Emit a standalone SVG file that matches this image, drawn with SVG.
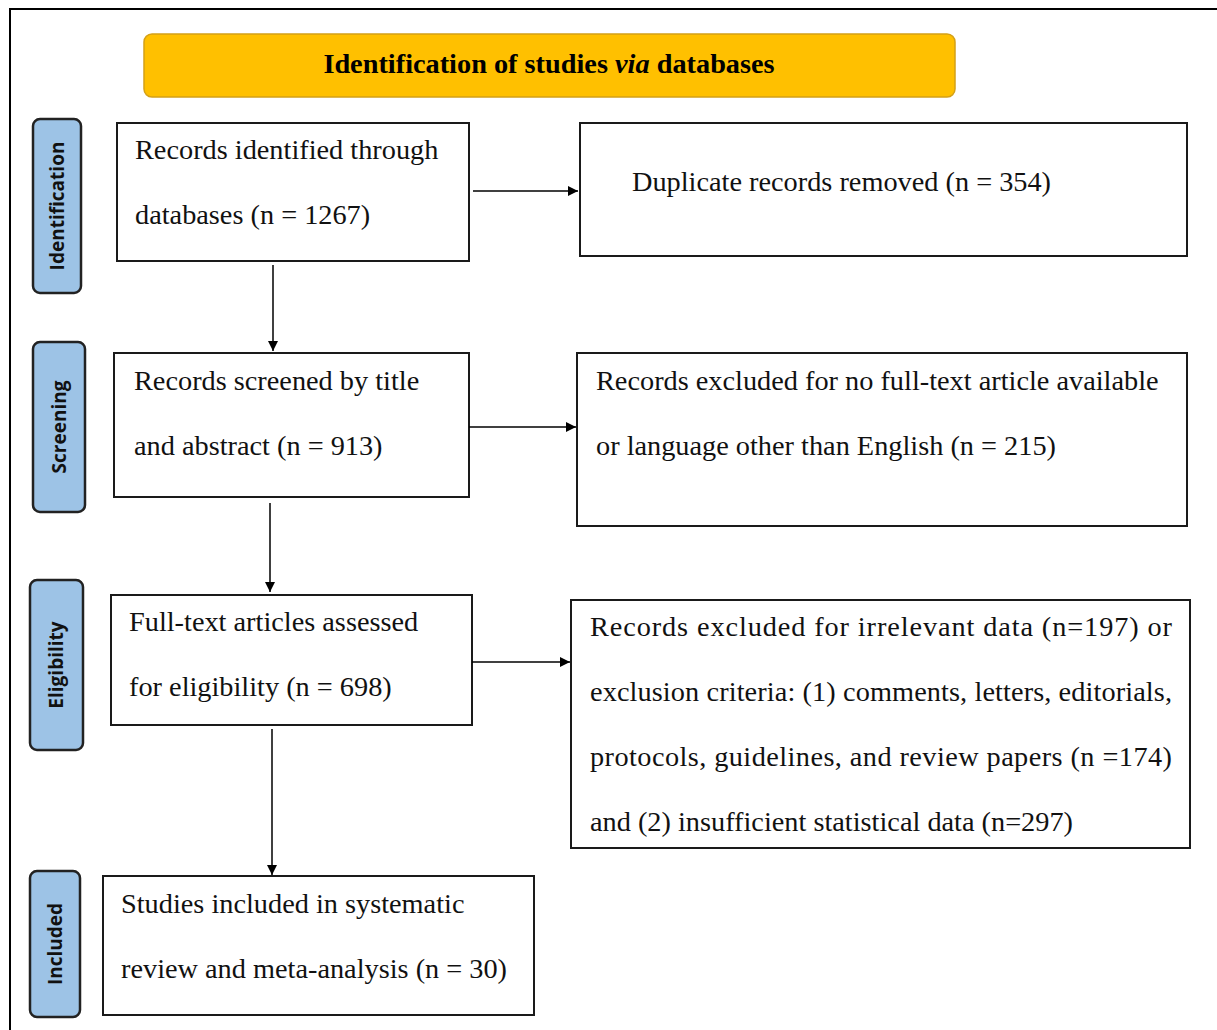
<svg xmlns="http://www.w3.org/2000/svg" width="1217" height="1030" viewBox="0 0 1217 1030">
<style>
.frame{fill:#fff;stroke:#000;stroke-width:2}
.box{fill:#fff;stroke:#1a1a1a;stroke-width:2}
.side{fill:#9DC3E6;stroke:#222;stroke-width:2.5}
.hdr{fill:#FFC000;stroke:#D4A017;stroke-width:1.5}
.t{font-family:"Liberation Serif","Times New Roman",serif;font-size:28.3px;fill:#111}
.h{font-family:"Liberation Serif","Times New Roman",serif;font-size:28.3px;font-weight:bold;fill:#000}
.s{font-family:"Open Sans","Liberation Sans",sans-serif;font-size:19px;font-weight:bold;fill:#111}
.c{stroke:#000;stroke-width:1.5;fill:none;marker-end:url(#ah)}
</style>
<defs>
<marker id="ah" viewBox="0 0 10 10" refX="10" refY="5" markerWidth="10" markerHeight="10" markerUnits="userSpaceOnUse" orient="auto">
<path d="M0,0 L10,5 L0,10 z" fill="#000"/>
</marker>
</defs>
<rect x="0" y="0" width="1217" height="1030" fill="#fff"/>
<rect class="frame" x="10" y="9" width="1230" height="1040"/>
<g id="header">
<rect class="hdr" x="144" y="34" width="811" height="63" rx="8"/>
<text class="h" x="549" y="73" text-anchor="middle">Identification of studies <tspan font-style="italic">via</tspan> databases</text>
</g>
<g id="lbl-identification">
<rect class="side" x="33" y="119" width="48" height="174" rx="7"/>
<text class="s" transform="translate(64,206) rotate(-90)" text-anchor="middle">Identification</text>
</g>
<g id="lbl-screening">
<rect class="side" x="33" y="342" width="52" height="170" rx="7"/>
<text class="s" transform="translate(66,427) rotate(-90)" text-anchor="middle">Screening</text>
</g>
<g id="lbl-eligibility">
<rect class="side" x="30" y="580" width="53" height="170" rx="7"/>
<text class="s" transform="translate(63,665) rotate(-90)" text-anchor="middle">Eligibility</text>
</g>
<g id="lbl-included">
<rect class="side" x="30" y="871" width="50" height="146" rx="7"/>
<text class="s" transform="translate(62,944) rotate(-90)" text-anchor="middle">Included</text>
</g>
<g id="n1">
<rect class="box" x="117" y="123" width="352" height="138"/>
<text class="t" x="135" y="159">Records identified through</text>
<text class="t" x="135" y="224">databases (n = 1267)</text>
</g>
<g id="n2">
<rect class="box" x="580" y="123" width="607" height="133"/>
<text class="t" x="632" y="191">Duplicate records removed (n = 354)</text>
</g>
<g id="n3">
<rect class="box" x="114" y="353" width="355" height="144"/>
<text class="t" x="134" y="390">Records screened by title</text>
<text class="t" x="134" y="455">and abstract (n = 913)</text>
</g>
<g id="n4">
<rect class="box" x="577" y="353" width="610" height="173"/>
<text class="t" x="596" y="390">Records excluded for no full-text article available</text>
<text class="t" x="596" y="455">or language other than English (n = 215)</text>
</g>
<g id="n5">
<rect class="box" x="111" y="595" width="361" height="130"/>
<text class="t" x="129" y="631">Full-text articles assessed</text>
<text class="t" x="129" y="696">for eligibility (n = 698)</text>
</g>
<g id="n6">
<rect class="box" x="571" y="600" width="619" height="248"/>
<text class="t" x="590" y="636" textLength="582" lengthAdjust="spacing">Records excluded for irrelevant data (n=197) or</text>
<text class="t" x="590" y="701" textLength="582" lengthAdjust="spacing">exclusion criteria: (1) comments, letters, editorials,</text>
<text class="t" x="590" y="766" textLength="582" lengthAdjust="spacing">protocols, guidelines, and review papers (n =174)</text>
<text class="t" x="590" y="831">and (2) insufficient statistical data (n=297)</text>
</g>
<g id="n7">
<rect class="box" x="103" y="876" width="431" height="139"/>
<text class="t" x="121" y="913">Studies included in systematic</text>
<text class="t" x="121" y="978">review and meta-analysis (n = 30)</text>
</g>
<g id="connectors">
<line class="c" x1="473" y1="191" x2="578" y2="191"/>
<line class="c" x1="273" y1="265" x2="273" y2="351"/>
<line class="c" x1="469" y1="427" x2="576" y2="427"/>
<line class="c" x1="270" y1="503" x2="270" y2="592"/>
<line class="c" x1="472" y1="662" x2="570" y2="662"/>
<line class="c" x1="272" y1="729" x2="272" y2="875"/>
</g>
</svg>
